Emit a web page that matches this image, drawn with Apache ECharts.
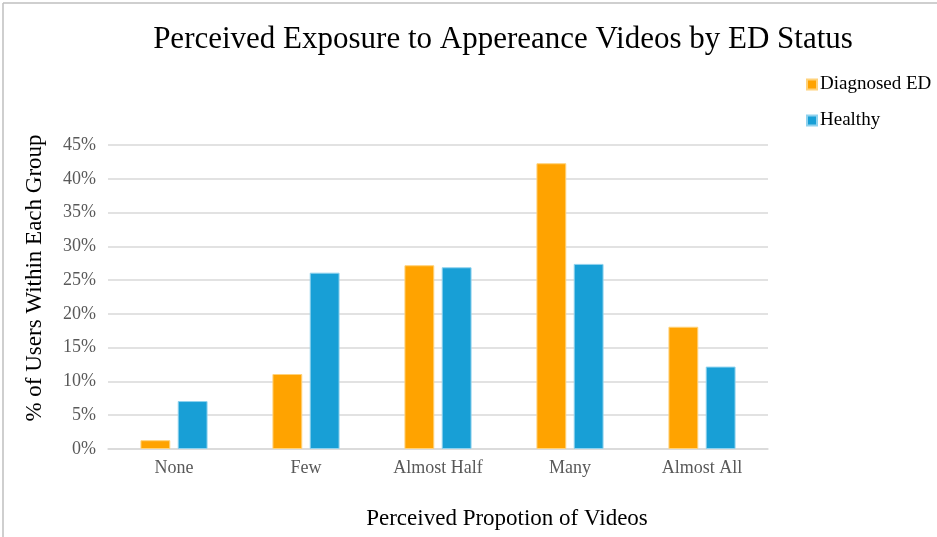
<!DOCTYPE html>
<html>
<head>
<meta charset="utf-8">
<script src="https://cdn.jsdelivr.net/npm/echarts@6/dist/echarts.min.js"></script>
<style>
  html, body { margin: 0; padding: 0; background: #ffffff; }
  #chart { width: 937px; height: 537px; }
</style>
</head>
<body>
<div id="chart"></div>
<script>
// Share of users (%) in each group by perceived proportion of appearance videos
const categories = ['None', 'Few', 'Almost Half', 'Many', 'Almost All'];
const diagnosedED = [1.3, 11.1, 27.2, 42.3, 18.1];
const healthy = [7.1, 26.1, 26.9, 27.4, 12.2];
const yTicks = { min: 0, max: 45, interval: 5 };

const serif = '"Liberation Serif", "DejaVu Serif", serif';

const chart = echarts.init(document.getElementById('chart'));
chart.setOption({
  backgroundColor: '#ffffff',
  animation: false,
  title: {
    text: 'Perceived Exposure to Appereance Videos by ED Status',
    left: 498,
    top: 19,
    textAlign: 'center',
    textStyle: { fontFamily: serif, fontSize: 31, fontWeight: 'normal', color: '#000000' }
  },
  legend: {
    orient: 'vertical',
    left: 806,
    top: 75,
    padding: 0,
    itemWidth: 10,
    itemHeight: 10,
    itemGap: 17,
    icon: 'rect',
    textStyle: { fontFamily: serif, fontSize: 19, color: '#000000', padding: [0, 0, 0, -2] },
    data: ['Diagnosed ED', 'Healthy']
  },
  grid: { left: 108, right: 169, top: 145, bottom: 88, containLabel: false, outerBoundsMode: 'none' },
  xAxis: {
    type: 'category',
    data: categories,
    axisLine: { show: true, lineStyle: { color: '#d9d9d9', width: 1.5 } },
    axisTick: { show: false },
    axisLabel: { fontFamily: serif, fontSize: 18, color: '#595959', margin: 10 }
  },
  yAxis: {
    type: 'value',
    min: yTicks.min,
    max: yTicks.max,
    interval: yTicks.interval,
    axisLine: { show: false },
    axisTick: { show: false },
    splitLine: { lineStyle: { color: '#d9d9d9', width: 1.5 } },
    axisLabel: {
      fontFamily: serif, fontSize: 18, color: '#595959', margin: 12,
      formatter: v => v + '%'
    }
  },
  series: [
    {
      name: 'Diagnosed ED',
      type: 'bar',
      data: diagnosedED,
      barWidth: '22.6%',
      barGap: '25%',
      itemStyle: { color: '#ffa300', borderColor: '#ffd27a', borderWidth: 1 }
    },
    {
      name: 'Healthy',
      type: 'bar',
      data: healthy,
      barWidth: '22.6%',
      barGap: '25%',
      itemStyle: { color: '#189fd6', borderColor: '#8fd2ee', borderWidth: 1 }
    }
  ],
  graphic: [
    // chart frame (top and left edges)
    { type: 'line', shape: { x1: 3, y1: 3, x2: 937, y2: 3 }, style: { stroke: '#bfbfbf', lineWidth: 1.5 } },
    { type: 'line', shape: { x1: 3, y1: 3, x2: 3, y2: 537 }, style: { stroke: '#bfbfbf', lineWidth: 1.5 } },
    // axis titles
    {
      type: 'text', x: 35, y: 278, rotation: Math.PI / 2,
      style: {
        text: '% of Users Within Each Group', fontFamily: serif, fontSize: 23,
        fill: '#000000', align: 'center', verticalAlign: 'middle'
      }
    },
    {
      type: 'text', x: 507, y: 519,
      style: {
        text: 'Perceived Propotion of Videos', fontFamily: serif, fontSize: 23,
        fill: '#000000', align: 'center', verticalAlign: 'middle'
      }
    }
  ]
});
</script>
</body>
</html>
